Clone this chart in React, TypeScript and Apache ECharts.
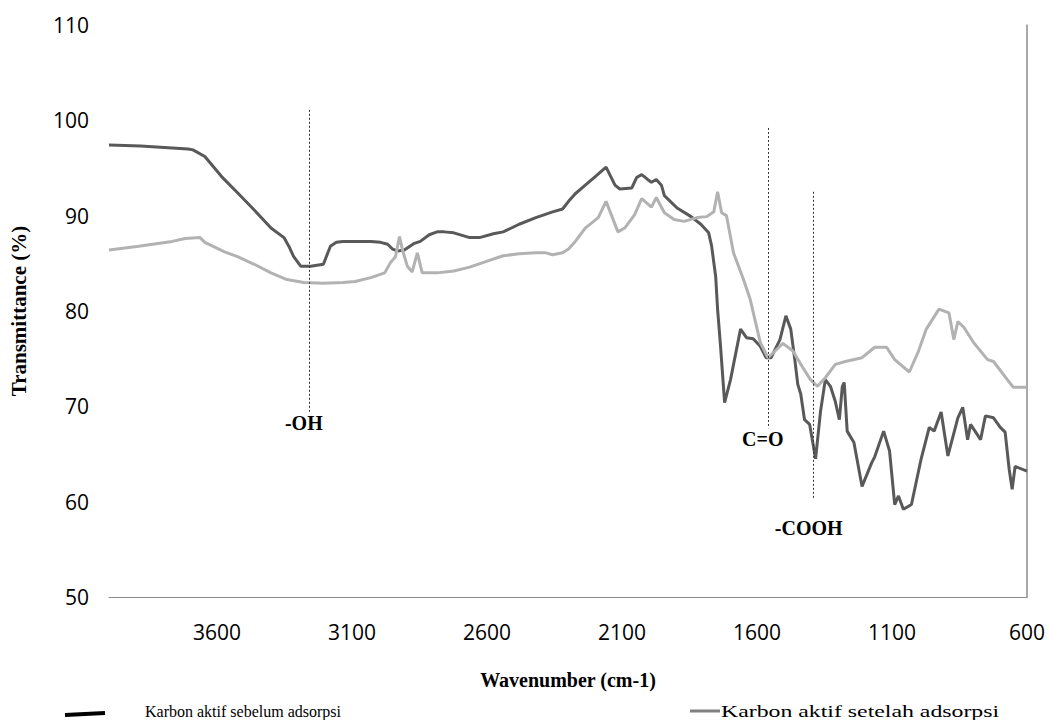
import React, { useEffect, useRef } from "react";
import * as echarts from "echarts";

// Wavenumber (cm-1) and transmittance (%) — before adsorption
const beforeWn = [4000, 3883, 3707, 3689, 3645, 3583, 3524, 3462, 3400, 3352, 3334, 3316, 3290, 3253, 3206, 3180, 3158, 3133, 3103, 3030, 2994, 2968, 2950, 2931, 2906, 2869, 2847, 2814, 2785, 2759, 2723, 2664, 2628, 2576, 2540, 2481, 2419, 2357, 2320, 2298, 2273, 2236, 2199, 2159, 2126, 2108, 2064, 2046, 2027, 2005, 1991, 1973, 1954, 1943, 1896, 1844, 1808, 1779, 1768, 1753, 1746, 1735, 1720, 1698, 1661, 1639, 1614, 1588, 1566, 1548, 1515, 1493, 1475, 1460, 1449, 1438, 1424, 1405, 1383, 1365, 1347, 1328, 1310, 1295, 1284, 1277, 1266, 1241, 1211, 1175, 1164, 1131, 1109, 1090, 1076, 1058, 1028, 992, 962, 944, 918, 893, 856, 838, 820, 809, 790, 772, 754, 724, 699, 681, 666, 655, 644, 600];
const beforeT = [97.4, 97.3, 97.0, 96.9, 96.2, 94.1, 92.4, 90.6, 88.7, 87.7, 86.8, 85.7, 84.7, 84.7, 84.9, 86.8, 87.2, 87.3, 87.3, 87.3, 87.2, 87.0, 86.5, 86.3, 86.4, 87.1, 87.3, 88.0, 88.3, 88.3, 88.2, 87.7, 87.7, 88.1, 88.3, 89.1, 89.8, 90.4, 90.7, 91.5, 92.3, 93.2, 94.1, 95.1, 93.2, 92.8, 92.9, 94.0, 94.3, 93.8, 93.5, 93.8, 93.2, 92.1, 90.8, 89.9, 89.1, 88.2, 86.8, 83.6, 80.2, 76.3, 70.4, 72.8, 78.1, 77.2, 77.1, 76.3, 75.1, 75.1, 77.0, 79.5, 78.1, 74.9, 72.3, 71.3, 68.6, 68.1, 64.5, 69.4, 72.8, 72.1, 70.5, 68.6, 72.1, 72.5, 67.4, 66.2, 61.6, 64.1, 64.7, 67.4, 65.3, 59.7, 60.6, 59.2, 59.7, 64.5, 67.8, 67.4, 69.4, 64.8, 68.8, 69.9, 66.5, 68.1, 67.3, 66.5, 69.0, 68.8, 67.8, 67.3, 63.4, 61.3, 63.7, 63.2];

// After adsorption
const afterWn = [4000, 3890, 3766, 3718, 3663, 3645, 3572, 3524, 3462, 3400, 3341, 3279, 3206, 3133, 3089, 3030, 2979, 2957, 2939, 2924, 2913, 2895, 2877, 2858, 2840, 2785, 2723, 2664, 2602, 2540, 2481, 2419, 2382, 2357, 2320, 2298, 2273, 2236, 2188, 2159, 2137, 2115, 2090, 2053, 2027, 1991, 1973, 1943, 1907, 1870, 1822, 1786, 1760, 1746, 1731, 1713, 1687, 1650, 1625, 1588, 1559, 1515, 1504, 1467, 1431, 1402, 1376, 1347, 1310, 1273, 1211, 1164, 1120, 1090, 1036, 1003, 973, 926, 889, 871, 856, 834, 798, 746, 724, 673, 651, 600];
const afterT = [86.4, 86.8, 87.3, 87.6, 87.7, 87.2, 86.2, 85.7, 84.9, 84.0, 83.3, 83.0, 82.9, 83.0, 83.1, 83.5, 84.0, 85.1, 85.7, 87.8, 86.4, 84.7, 84.1, 86.1, 84.0, 84.0, 84.2, 84.6, 85.2, 85.8, 86.0, 86.1, 86.1, 85.9, 86.1, 86.5, 87.3, 88.7, 89.8, 91.5, 89.9, 88.3, 88.7, 90.1, 91.8, 90.9, 91.9, 90.3, 89.6, 89.4, 89.8, 89.9, 90.4, 92.5, 90.3, 90.0, 86.1, 83.3, 81.2, 76.7, 75.1, 76.3, 76.6, 75.8, 74.1, 72.8, 72.1, 73.0, 74.4, 74.7, 75.1, 76.2, 76.2, 74.9, 73.6, 75.7, 78.1, 80.2, 79.8, 77.0, 78.9, 78.3, 76.7, 74.9, 74.7, 72.8, 72.0, 72.0];

const xTickLabels = [3600, 3100, 2600, 2100, 1600, 1100, 600];

// Annotations: label, wavenumber, top T, bottom T
const annotLabels = ["-OH", "C=O", "-COOH"];
const annotWn = [3260, 1560, 1390];
const annotTop = [101.1, 99.2, 92.5];
const annotBottom = [69.4, 67.7, 60.4];
const annotGap = [1, 1, 20];

const seriesNames = ["Karbon aktif sebelum adsorpsi", "Karbon aktif setelah adsorpsi"];

const SANS = "'Open Sans', sans-serif";
const SERIF = "'Liberation Serif', 'Times New Roman', serif";

export default function App() {
  const ref = useRef<HTMLDivElement>(null);
  useEffect(() => {
    if (!ref.current) return;
    const chart = echarts.init(ref.current, undefined, { renderer: "svg" });
    const before = beforeWn.map((w, i) => [w, beforeT[i]]);
    const after = afterWn.map((w, i) => [w, afterT[i]]);
    const markData = annotLabels.map((lab, i) => [
      {
        coord: [annotWn[i], annotTop[i]],
        label: {
          show: true,
          position: "end",
          formatter: lab,
          distance: annotGap[i],
          offset: [-5, 0],
          fontFamily: SERIF,
          fontWeight: "bold",
          fontSize: 20,
          color: "#000",
        },
      },
      { coord: [annotWn[i], annotBottom[i]] },
    ]);
    chart.setOption({
      animation: false,
      backgroundColor: "#fff",
      grid: { left: 98, right: 22, top: 25, bottom: 123 },
      xAxis: {
        type: "value",
        min: 600,
        max: 4000,
        inverse: true,
        name: "Wavenumber (cm-1)",
        nameLocation: "middle",
        nameGap: 73,
        nameTextStyle: { fontFamily: SERIF, fontWeight: "bold", fontSize: 20, color: "#000" },
        axisLine: { show: true, onZero: false, lineStyle: { color: "#8c8c8c", width: 1 } },
        axisTick: { show: false },
        splitLine: { show: false },
        axisLabel: {
          customValues: xTickLabels,
          formatter: (v: number) => String(v),
          fontFamily: SANS,
          fontSize: 21,
          color: "#000",
          margin: 24,
        },
      },
      yAxis: [
        {
          type: "value",
          min: 50,
          max: 110,
          interval: 10,
          name: "Transmittance (%)",
          nameLocation: "middle",
          nameGap: 80,
          nameTextStyle: { fontFamily: SERIF, fontWeight: "bold", fontSize: 21, color: "#000" },
          axisLine: { show: false },
          axisTick: { show: false },
          splitLine: { show: false },
          axisLabel: {
            formatter: (v: number) => String(v),
            fontFamily: SANS,
            fontSize: 21,
            color: "#000",
            margin: 20,
          },
        },
        {
          type: "value",
          min: 50,
          max: 110,
          interval: 10,
          position: "right",
          axisLine: { show: true, onZero: false, lineStyle: { color: "#8c8c8c", width: 1.5 } },
          axisTick: { show: false },
          axisLabel: { show: false },
          splitLine: { show: false },
        },
      ],
      series: [
        {
          name: seriesNames[0],
          type: "line",
          data: before,
          showSymbol: false,
          lineStyle: { color: "#595959", width: 3 },
          itemStyle: { color: "#595959" },
          markLine: {
            silent: true,
            symbol: ["none", "none"],
            lineStyle: { color: "#333", width: 1, type: [2, 2] },
            data: markData,
          },
          z: 2,
        },
        {
          name: seriesNames[1],
          type: "line",
          data: after,
          showSymbol: false,
          lineStyle: { color: "#b2b2b2", width: 3 },
          itemStyle: { color: "#b2b2b2" },
          z: 3,
        },
      ],
      graphic: [
        { type: "line", shape: { x1: 65, y1: 715, x2: 105, y2: 713 }, style: { stroke: "#000", lineWidth: 4 } },
        {
          type: "text",
          x: 145,
          y: 711,
          style: { text: seriesNames[0], fontFamily: SERIF, fontSize: 16, fill: "#000", verticalAlign: "middle" },
        },
        { type: "line", shape: { x1: 690, y1: 711, x2: 720, y2: 711 }, style: { stroke: "#7f7f7f", lineWidth: 3 } },
        {
          type: "text",
          x: 721,
          y: 711,
          scaleX: 1.4,
          style: { text: seriesNames[1], fontFamily: SERIF, fontSize: 17, fill: "#000", verticalAlign: "middle" },
        },
      ],
    });
    return () => chart.dispose();
  }, []);
  return (
    <div
      ref={ref}
      style={{ position: "absolute", left: 0, top: 0, width: 1049, height: 720, background: "#fff" }}
    />
  );
}
